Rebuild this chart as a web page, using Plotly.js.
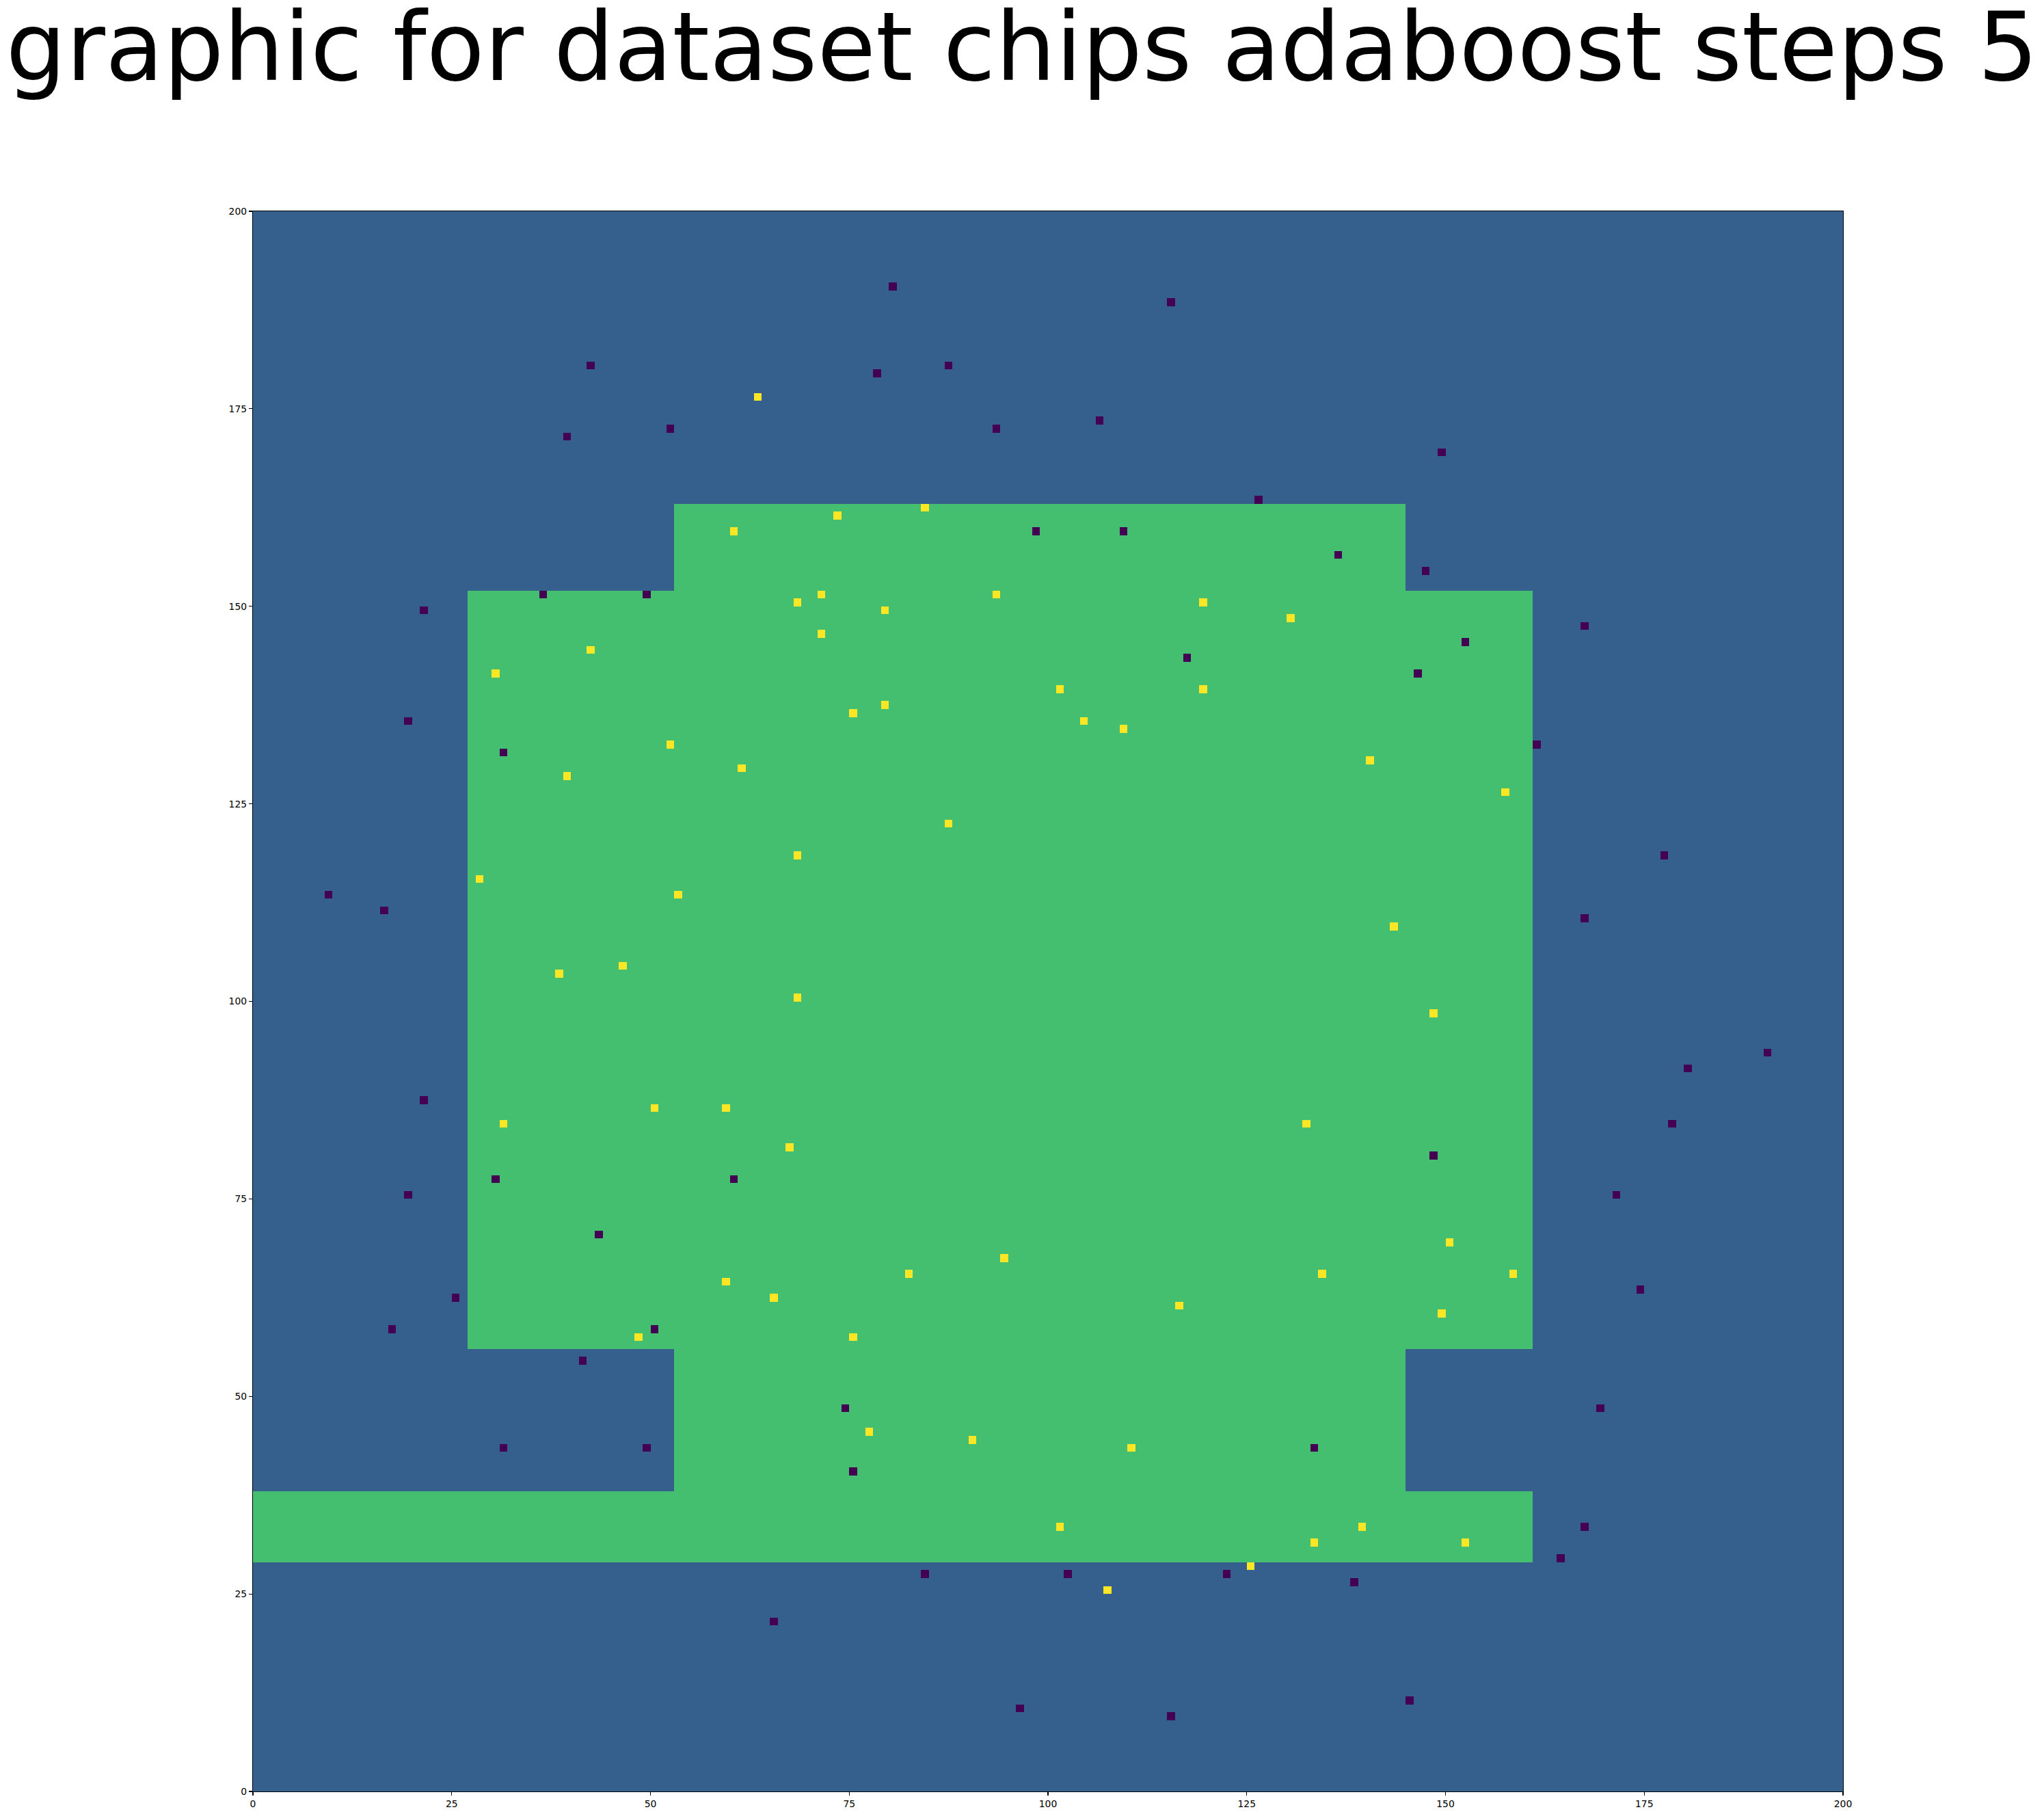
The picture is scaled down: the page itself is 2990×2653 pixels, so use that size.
<!DOCTYPE html>
<html>
<head>
<meta charset="utf-8">
<script src="https://cdn.plot.ly/plotly-3.0.1.min.js"></script>
<style>
  html, body { margin: 0; padding: 0; background: #ffffff; }
  #chart { width: 2990px; height: 2653px; }
</style>
</head>
<body>
<div id="chart"></div>
<script>
'use strict';

// grid size of the decision image
const gridSize = 200;

// regions predicted as class 1 (cell index ranges, end exclusive)
const regionX0 = [0, 53, 27];
const regionX1 = [161, 145, 161];
const regionY0 = [29, 38, 56];
const regionY1 = [38, 163, 152];

// training points of class 0 (purple)
const class0X = [42, 52, 39, 36, 49, 21, 19,
  80, 115, 78, 87, 93, 106, 126, 98, 109, 117,
  149, 136, 147, 167, 152, 146, 161,
  31, 9, 16, 21, 30, 60, 19, 43,
  177, 167, 190, 180, 178, 148, 171,
  25, 17, 50, 41, 31, 49, 65,
  74, 133, 75, 84, 102, 122, 96, 115,
  174, 169, 167, 164, 138, 145];
const class0Y = [180, 172, 171, 151, 151, 149, 135,
  190, 188, 179, 180, 172, 173, 163, 159, 159, 143,
  169, 156, 154, 147, 145, 141, 132,
  131, 113, 111, 87, 77, 77, 75, 70,
  118, 110, 93, 91, 84, 80, 75,
  62, 58, 58, 54, 43, 43, 21,
  48, 43, 40, 27, 27, 27, 10, 9,
  63, 48, 33, 29, 26, 11];

// training points of class 1 (yellow)
const class1X = [63, 60, 42, 30, 52,
  84, 73, 71, 68, 79, 93, 119, 130, 71, 101, 119, 79, 75, 104, 109,
  61, 39, 28, 53, 46, 38, 50, 59, 31, 67,
  87, 68, 68, 132, 94, 82,
  140, 157, 143, 148, 150, 134, 158,
  59, 65, 48,
  116, 75, 77, 90, 110, 101, 133, 125, 107,
  149, 139, 152];
const class1Y = [176, 159, 144, 141, 132,
  162, 161, 151, 150, 149, 151, 150, 148, 146, 139, 139, 137, 136, 135, 134,
  129, 128, 115, 113, 104, 103, 86, 86, 84, 81,
  122, 118, 100, 84, 67, 65,
  130, 126, 109, 98, 69, 65, 65,
  64, 62, 57,
  61, 57, 45, 44, 43, 33, 31, 28, 25,
  60, 33, 31];

const tickValues = [0, 25, 50, 75, 100, 125, 150, 175, 200];

// values on the viridis scale, as in the original image
const valueRegion0 = 0.3;
const valueRegion1 = 0.7;
const valuePoint0 = 0;
const valuePoint1 = 1;

// build the image
const z = [];
for (let j = 0; j < gridSize; j++) {
  const row = [];
  for (let i = 0; i < gridSize; i++) {
    let v = valueRegion0;
    for (let k = 0; k < regionX0.length; k++) {
      if (i >= regionX0[k] && i < regionX1[k] && j >= regionY0[k] && j < regionY1[k]) {
        v = valueRegion1;
      }
    }
    row.push(v);
  }
  z.push(row);
}
class0X.forEach((x, k) => { z[class0Y[k]][x] = valuePoint0; });
class1X.forEach((x, k) => { z[class1Y[k]][x] = valuePoint1; });

const trace = {
  type: 'heatmap',
  z: z,
  x0: 0.5,
  dx: 1,
  y0: 0.5,
  dy: 1,
  zmin: 0,
  zmax: 1,
  zsmooth: false,
  showscale: false,
  hoverinfo: 'skip',
  colorscale: [
    [0, '#440154'],
    [0.3, '#355f8d'],
    [0.7, '#44bf70'],
    [1, '#fde725']
  ]
};

const axisStyle = {
  range: [0, gridSize],
  tickmode: 'array',
  tickvals: tickValues,
  ticktext: tickValues.map(String),
  ticks: 'outside',
  ticklen: 5,
  tickwidth: 1.1,
  tickcolor: '#000000',
  showgrid: false,
  zeroline: false,
  showline: true,
  mirror: true,
  linecolor: '#000000',
  linewidth: 1.1,
  tickfont: { family: 'DejaVu Sans', size: 13.9, color: '#000000' }
};

const layout = {
  width: 2990,
  height: 2653,
  margin: { l: 370, r: 294, t: 309, b: 33, pad: 0 },
  paper_bgcolor: '#ffffff',
  plot_bgcolor: '#ffffff',
  title: {
    text: 'graphic for dataset chips adaboost steps 5',
    font: { family: 'DejaVu Sans', size: 139, color: '#000000' },
    xref: 'container',
    yref: 'container',
    x: 0.5,
    xanchor: 'center',
    y: 0.9744,
    yanchor: 'middle'
  },
  xaxis: Object.assign({}, axisStyle),
  yaxis: Object.assign({}, axisStyle)
};

Plotly.newPlot('chart', [trace], layout, { staticPlot: true, displayModeBar: false });
</script>
</body>
</html>
